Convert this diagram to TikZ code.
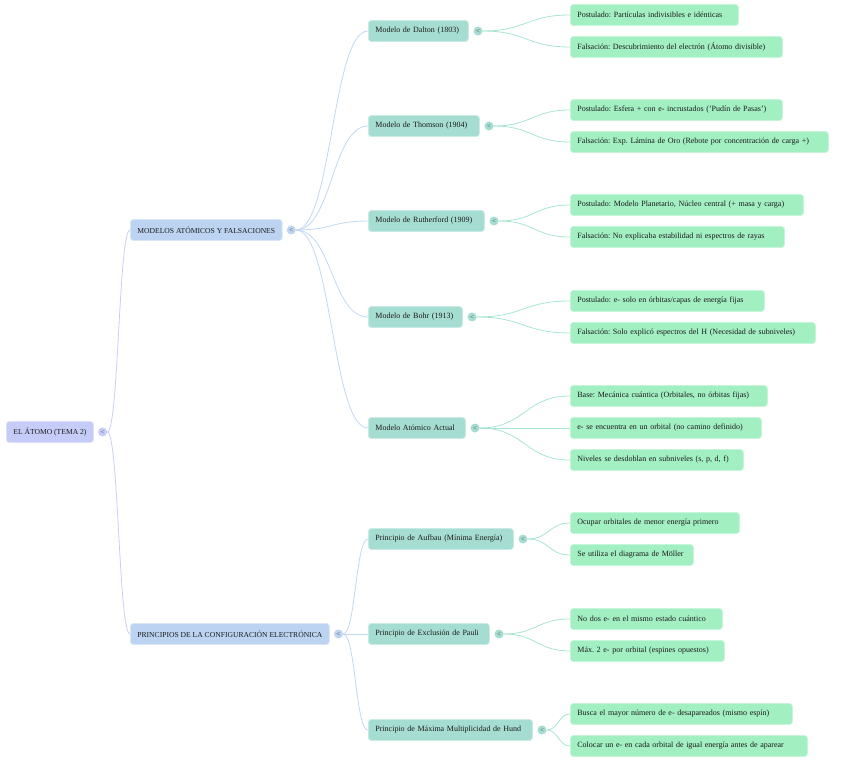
\documentclass[tikz,border=0pt]{standalone}
\usepackage{fontspec}
\setmainfont{Liberation Serif}
\usetikzlibrary{positioning,calc}
\frenchspacing
\definecolor{rootc}{HTML}{C6CCF8}
\definecolor{catc}{HTML}{BCD4F1}
\definecolor{modc}{HTML}{A6DDD2}
\definecolor{leafc}{HTML}{A2EFC2}
\definecolor{rootline}{HTML}{C8D0F6}
\definecolor{catline}{HTML}{C2D8F2}
\definecolor{leafline}{HTML}{A8E6CE}
\definecolor{textc}{HTML}{1A1A1A}

\begin{document}
\begin{tikzpicture}[x=1pt,y=-1pt,
    mapbox/.style={rounded corners=3pt,line width=0.8pt,minimum height=21pt,inner xsep=7pt,inner ysep=0pt,
        align=left,font=\fontsize{8}{9.6}\selectfont,text=textc,anchor=west},
    rootbox/.style={mapbox,fill=rootc,draw=rootc!60!white,font=\fontsize{7.6}{9.6}\selectfont},
    catbox/.style={mapbox,fill=catc,draw=catc!60!white,font=\fontsize{7.6}{9.6}\selectfont},
    modbox/.style={mapbox,fill=modc,draw=modc!60!white,text width=#1},
    leafbox/.style={mapbox,fill=leafc,draw=leafc!60!white,text width=#1},
    fold/.style={circle,fill=#1,inner sep=0pt,minimum size=9pt,font=\fontsize{7}{7}\selectfont,text=black!70},
    curve/.style={to path={let \p1=(\tikztostart), \p2=(\tikztotarget), \n1={0.5*(\x2-\x1)} in
        .. controls +(\n1,0) and +(-\n1,0) .. (\tikztotarget)}},
    rootedge/.style={draw=rootline,line width=0.8pt,curve},
    catedge/.style={draw=catline,line width=0.8pt,curve},
    leafedge/.style={draw=leafline,line width=0.8pt,curve}]
    \useasboundingbox (0,0) rectangle (848,762);

    % root and categories
    \node[rootbox] (atomo) at (6,432) {EL ÁTOMO (TEMA 2)};
    \node[fold=rootc,right=4pt of atomo] (atomoF) {<};
    \node[catbox] (modelos) at (130,230) {MODELOS ATÓMICOS Y FALSACIONES};
    \node[fold=catc,right=4pt of modelos] (modelosF) {<};
    \node[catbox] (principios) at (130,634) {PRINCIPIOS DE LA CONFIGURACIÓN ELECTRÓNICA};
    \node[fold=catc,right=4pt of principios] (principiosF) {<};
    \draw[rootedge] (atomoF.east) to (modelos.west);
    \draw[rootedge] (atomoF.east) to (principios.west);

    % atomic models
    \node[modbox=86pt] (dalton) at (368,31) {Modelo de Dalton (1803)};
    \node[modbox=97pt] (thomson) at (368,126) {Modelo de Thomson (1904)};
    \node[modbox=102pt] (rutherford) at (368,221) {Modelo de Rutherford (1909)};
    \node[modbox=80pt] (bohr) at (368,317) {Modelo de Bohr (1913)};
    \node[modbox=83pt] (actual) at (368,428) {Modelo Atómico Actual};
    \foreach \m in {dalton,thomson,rutherford,bohr,actual}{
        \node[fold=modc,right=4.5pt of \m] (\m F) {<};
        \draw[catedge] (modelosF.east) to (\m.west);
    }

    % principles
    \node[modbox=131pt] (aufbau) at (368,539) {Principio de Aufbau (Mínima Energía)};
    \node[modbox=107pt] (pauli) at (368,634) {Principio de Exclusión de Pauli};
    \node[modbox=150pt] (hund) at (368,730) {Principio de Máxima Multiplicidad de Hund};
    \foreach \m in {aufbau,pauli,hund}{
        \node[fold=modc,right=4.5pt of \m] (\m F) {<};
        \draw[catedge] (principiosF.east) to (\m.west);
    }

    % leaves
    \node[leafbox=154pt] (dalton1) at (570,15) {Postulado: Partículas indivisibles e idénticas};
    \node[leafbox=198pt] (dalton2) at (570,47) {Falsación: Descubrimiento del electrón (Átomo divisible)};
    \node[leafbox=198pt] (thomson1) at (570,110) {Postulado: Esfera + con e- incrustados ('Pudín de Pasas')};
    \node[leafbox=244pt] (thomson2) at (570,142) {Falsación: Exp. Lámina de Oro (Rebote por concentración de carga +)};
    \node[leafbox=219pt] (rutherford1) at (570,205) {Postulado: Modelo Planetario, Núcleo central (+ masa y carga)};
    \node[leafbox=200pt] (rutherford2) at (570,237) {Falsación: No explicaba estabilidad ni espectros de rayas};
    \node[leafbox=180pt] (bohr1) at (570,301) {Postulado: e- solo en órbitas/capas de energía fijas};
    \node[leafbox=231pt] (bohr2) at (570,333) {Falsación: Solo explicó espectros del H (Necesidad de subniveles)};
    \node[leafbox=183pt] (actual1) at (570,396) {Base: Mecánica cuántica (Orbitales, no órbitas fijas)};
    \node[leafbox=177pt] (actual2) at (570,428) {e- se encuentra en un orbital (no camino definido)};
    \node[leafbox=159pt] (actual3) at (570,460) {Niveles se desdoblan en subniveles (s, p, d, f)};
    \node[leafbox=155pt] (aufbau1) at (570,523) {Ocupar orbitales de menor energía primero};
    \node[leafbox=109pt] (aufbau2) at (570,555) {Se utiliza el diagrama de Möller};
    \node[leafbox=138pt] (pauli1) at (570,619) {No dos e- en el mismo estado cuántico};
    \node[leafbox=140pt] (pauli2) at (570,651) {Máx. 2 e- por orbital (espines opuestos)};
    \node[leafbox=208pt] (hund1) at (570,714) {Busca el mayor número de e- desapareados (mismo espín)};
    \node[leafbox=223pt] (hund2) at (570,746) {Colocar un e- en cada orbital de igual energía antes de aparear};
    \foreach \m/\l in {dalton/dalton1,dalton/dalton2,thomson/thomson1,thomson/thomson2,
        rutherford/rutherford1,rutherford/rutherford2,bohr/bohr1,bohr/bohr2,
        actual/actual1,actual/actual2,actual/actual3,aufbau/aufbau1,aufbau/aufbau2,
        pauli/pauli1,pauli/pauli2,hund/hund1,hund/hund2}
        \draw[leafedge] (\m F.east) to (\l.west);
\end{tikzpicture}
\end{document}
